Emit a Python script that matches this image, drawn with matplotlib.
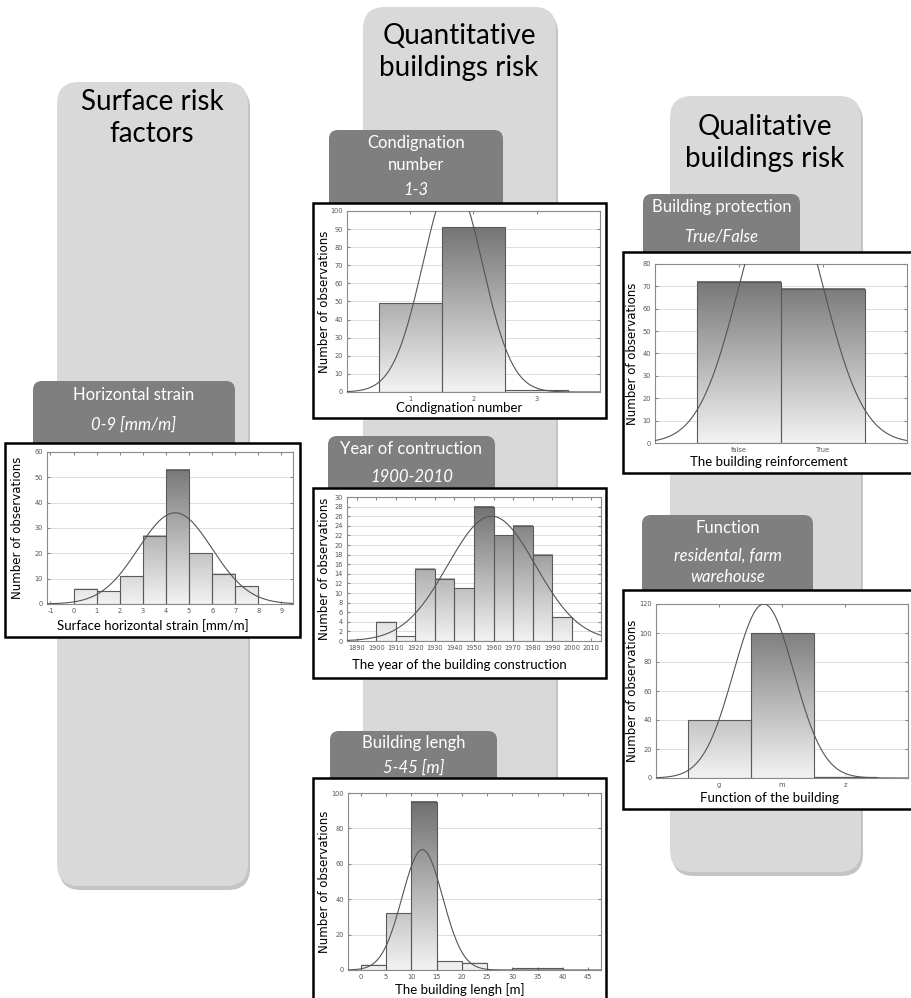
import numpy as np
import matplotlib.pyplot as plt
from matplotlib.patches import FancyBboxPatch
from matplotlib.colors import LinearSegmentedColormap

W, H = 911, 998

# ---- data ----
strain_edges = [0, 1, 2, 3, 4, 5, 6, 7, 8]
strain_counts = [6, 5, 11, 27, 53, 20, 12, 7]
strain_ticks = [-1, 0, 1, 2, 3, 4, 5, 6, 7, 8, 9]
strain_fit = (4.4, 1.6, 36)          # mean, sd, peak height of the fitted curve

cond_labels = ["1", "2", "3"]
cond_counts = [49, 91, 1]
cond_fit = (1.67, 0.47, 117)

year_edges = [1900, 1910, 1920, 1930, 1940, 1950, 1960, 1970, 1980, 1990, 2000]
year_counts = [4, 1, 15, 13, 11, 28, 22, 24, 18, 5]
year_ticks = [1890, 1900, 1910, 1920, 1930, 1940, 1950, 1960, 1970, 1980, 1990, 2000, 2010]
year_fit = (1959, 22.5, 26)

length_edges = [0, 5, 10, 15, 20, 25, 30, 35, 40]
length_counts = [3, 32, 95, 5, 4, 0, 1, 1]
length_ticks = [0, 5, 10, 15, 20, 25, 30, 35, 40, 45]
length_fit = (12.2, 4.0, 68)

protect_labels = ["false", "True"]
protect_counts = [72, 69]
protect_fit = (1.5, 0.49, 118)

function_labels = ["g", "m", "z"]
function_counts = [40, 100, 1]
function_fit = (1.71, 0.48, 120)

LIGHT = "#d9d9d9"
DARK = "#7f7f7f"
shade = LinearSegmentedColormap.from_list("shade", ["#f2f2f2", "#6a6a6a"])
TXT = "Lato"


def frac(x0, y0, x1, y1):
    # pixel box (top-left origin) -> figure fraction rect
    return [x0 / W, 1 - y1 / H, (x1 - x0) / W, (y1 - y0) / H]


fig = plt.figure(figsize=(W / 100, H / 100), dpi=100)
bg = fig.add_axes([0, 0, 1, 1], zorder=0)
bg.set_xlim(0, W)
bg.set_ylim(H, 0)
bg.axis("off")


def rbox(x0, y0, x1, y1, color, r=18, **kw):
    p = FancyBboxPatch((x0, y0), x1 - x0, y1 - y0,
                       boxstyle="round,pad=0,rounding_size=%d" % r,
                       facecolor=color, edgecolor="none", **kw)
    bg.add_patch(p)


# big grey columns
for x0, y0, x1, y1 in [(57, 82, 248, 886), (363, 7, 556, 1030), (670, 96, 861, 872)]:
    rbox(x0 + 2, y0 + 4, x1 + 2, y1 + 4, "#c4c4c4", r=22, zorder=1)
    rbox(x0, y0, x1, y1, LIGHT, r=22, zorder=2)

bg.text(152, 118, "Surface risk\nfactors", ha="center", va="center", fontsize=20,
        family=TXT, linespacing=1.3, zorder=3)
bg.text(459, 52, "Quantitative\nbuildings risk", ha="center", va="center", fontsize=20,
        family=TXT, linespacing=1.3, zorder=3)
bg.text(765, 143, "Qualitative\nbuildings risk", ha="center", va="center", fontsize=20,
        family=TXT, linespacing=1.3, zorder=3)

# dark headers: box, plain lines, italic lines
headers = [
    ((33, 381, 235, 460), [("Horizontal strain", 395, False), ("0-9 [mm/m]", 425, True)]),
    ((329, 130, 503, 220), [("Condignation", 143, False), ("number", 165, False), ("1-3", 190, True)]),
    ((328, 436, 495, 500), [("Year of contruction", 449, False), ("1900-2010", 477, True)]),
    ((330, 731, 497, 790), [("Building lengh", 743, False), ("5-45 [m]", 768, True)]),
    ((643, 194, 800, 265), [("Building protection", 207, False), ("True/False", 236, True)]),
    ((642, 515, 813, 600), [("Function", 528, False), ("residental, farm", 556, True),
                            ("warehouse", 577, True)]),
]
for (x0, y0, x1, y1), lines in headers:
    rbox(x0, y0, x1, y1, DARK, r=9, zorder=4)
    for s, y, it in lines:
        bg.text((x0 + x1) / 2, y, s, ha="center", va="center", color="white",
                fontsize=12, family=TXT, style="italic" if it else "normal", zorder=5)


def panel(box, axrect, lefts, widths, counts, ymax, ystep, xlim, ticks, ticklabels,
          fit, xlabel, xlab_y, ylab_x):
    x0, y0, x1, y1 = box
    bg.add_patch(plt.Rectangle((x0, y0), x1 - x0, y1 - y0, facecolor="white",
                               edgecolor="black", lw=1.8, zorder=6))
    ax = fig.add_axes(frac(*axrect), zorder=2)
    for l, w, c in zip(lefts, widths, counts):
        if c <= 0:
            continue
        g = np.linspace(0, c / ymax, 64).reshape(-1, 1)
        ax.imshow(g, extent=[l, l + w, 0, c], origin="lower", cmap=shade,
                  vmin=0, vmax=1, aspect="auto", zorder=2)
    ax.bar(lefts, counts, width=widths, align="edge", fill=False,
           edgecolor="#5a5a5a", lw=0.8, zorder=3)
    mu, sd, pk = fit
    xs = np.linspace(xlim[0], xlim[1], 400)
    ax.plot(xs, pk * np.exp(-(xs - mu) ** 2 / (2 * sd ** 2)), color="#555555",
            lw=0.8, zorder=4)
    ax.set_xlim(*xlim)
    ax.set_ylim(0, ymax)
    ax.set_xticks(ticks)
    ax.set_xticklabels(ticklabels)
    ax.set_yticks(np.arange(0, ymax + 0.1, ystep))
    ax.grid(axis="y", color="#dddddd", lw=0.7, zorder=0)
    ax.set_axisbelow(True)
    for sp in ax.spines.values():
        sp.set_color("#8a8a8a")
        sp.set_linewidth(0.8)
    ax.tick_params(labelsize=4.8, labelcolor="#555555", direction="in", length=2.5,
                   color="#888888", top=True, right=True, pad=3)
    bg.text((x0 + x1) / 2, xlab_y, xlabel, ha="center", va="center", fontsize=9.5,
            family=TXT, zorder=7)
    bg.text(ylab_x, (axrect[1] + axrect[3]) / 2, "Number of observations", rotation=90,
            ha="center", va="center", fontsize=8.5, family="DejaVu Sans", zorder=7)
    return ax


def edges_to_bars(edges):
    return edges[:-1], [b - a for a, b in zip(edges[:-1], edges[1:])]


l, w = edges_to_bars(strain_edges)
panel((5, 443, 300, 637), (47, 452, 293, 604), l, w, strain_counts, 60, 10,
      (-1.15, 9.5), strain_ticks, [str(t) for t in strain_ticks], strain_fit,
      "Surface horizontal strain [mm/m]", 626, 18)

pos = [i + 0.5 for i in range(len(cond_labels))]
panel((313, 203, 606, 418), (347, 211, 600, 392), pos, [1] * 3, cond_counts, 100, 10,
      (0, 4), [1, 2, 3], cond_labels, cond_fit, "Condignation number", 408, 325)

l, w = edges_to_bars(year_edges)
panel((313, 488, 606, 678), (347, 497, 601, 641), l, w, year_counts, 30, 2,
      (1885, 2015), year_ticks, [str(t) for t in year_ticks], year_fit,
      "The year of the building construction", 665, 325)

l, w = edges_to_bars(length_edges)
panel((313, 778, 606, 1005), (348, 793, 601, 970), l, w, length_counts, 100, 20,
      (-2.5, 47.5), length_ticks, [str(t) for t in length_ticks], length_fit,
      "The building lengh [m]", 990, 325)

pos = [i + 0.5 for i in range(len(protect_labels))]
panel((623, 252, 915, 473), (655, 264, 907, 443), pos, [1] * 2, protect_counts, 80, 10,
      (0, 3), [1, 2], protect_labels, protect_fit, "The building reinforcement", 462, 633)

pos = [i + 0.5 for i in range(len(function_labels))]
panel((623, 590, 915, 809), (656, 604, 908, 778), pos, [1] * 3, function_counts, 120, 20,
      (0, 4), [1, 2, 3], function_labels, function_fit, "Function of the building", 798, 633)

fig.savefig("out.png", dpi=100)
